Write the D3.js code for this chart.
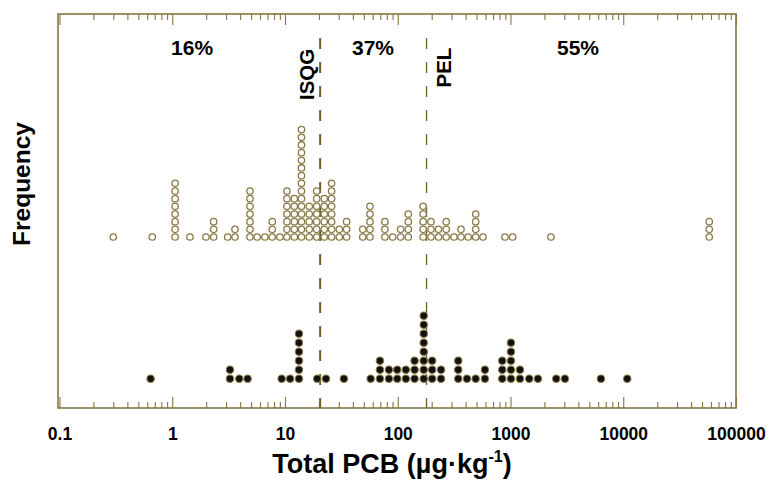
<!DOCTYPE html>
<html>
<head>
<meta charset="utf-8">
<script src="https://cdn.jsdelivr.net/npm/d3@7"></script>
<style>
  html, body { margin: 0; padding: 0; background: #fff; }
  svg { display: block; font-family: "Liberation Sans", Arial, sans-serif; }
</style>
</head>
<body>
<svg id="chart" width="771" height="483"></svg>
<script>
// ---------------- data ----------------
// Upper series (open circles): bin value (µg·kg-1) and number of samples stacked in the bin
const openValues = [0.30, 0.665, 1.06, 1.435, 1.99, 2.33, 3.10, 3.60, 4.89, 5.67, 6.64, 7.71, 9.02, 10.4, 12.1, 14.0, 16.4, 19.1, 22.3, 25.9, 30.3, 35.2, 48.9, 56.7, 76.9, 90.1, 106, 124, 168, 197, 230, 269, 315, 364, 422, 491, 570, 893, 1045, 2284, 57900];
const openCounts = [1, 1, 8, 1, 1, 3, 1, 2, 7, 1, 1, 3, 1, 7, 6, 15, 5, 7, 6, 8, 2, 3, 2, 5, 3, 1, 2, 4, 5, 3, 2, 3, 1, 2, 1, 4, 1, 1, 1, 1, 3];

// Lower series (filled circles)
const filledValues = [0.643, 3.25, 3.93, 4.66, 9.34, 11.1, 13.3, 19.3, 23.1, 33.3, 57.5, 69.5, 83.5, 99.0, 118, 141, 170, 202, 242, 344, 411, 491, 593, 845, 1009, 1213, 1466, 1750, 2545, 3040, 6340, 10850];
const filledCounts = [1, 2, 1, 1, 1, 1, 6, 1, 1, 1, 1, 3, 2, 2, 2, 3, 8, 3, 2, 3, 1, 1, 2, 3, 5, 2, 1, 1, 1, 1, 1, 1];

// Sediment quality guidelines
const guidelineNames = ["ISQG", "PEL"];
const guidelineValues = [20.5, 180];

// Percentage annotations (label, position value)
const percentLabels = ["16%", "37%", "55%"];
const percentPositions = [1.50, 60.3, 3970];

// Axis ticks
const majorTicks = [0.1, 1, 10, 100, 1000, 10000, 100000];
const tickLabels = ["0.1", "1", "10", "100", "1000", "10000", "100000"];

// ---------------- drawing ----------------
const svg = d3.select("#chart");
const frame = { left: 58, right: 736, top: 14, bottom: 408 };
const olive = "#85763f";

const x = d3.scaleLog().domain([0.1, 100000]).range([59.5, 736]);
const minorTicks = x.ticks().filter(v => !majorTicks.some(m => Math.abs(m - v) / m < 1e-9));

const yOpen = d3.scaleLinear().domain([0, 10]).range([237, 237 - 76.7]);
const yFilled = d3.scaleLinear().domain([0, 10]).range([378.7, 378.7 - 90]);

// frame
svg.append("rect")
  .attr("x", frame.left).attr("y", frame.top)
  .attr("width", frame.right - frame.left).attr("height", frame.bottom - frame.top)
  .attr("fill", "none").attr("stroke", olive).attr("stroke-width", 1.6);

function styleAxis(g) {
  g.select(".domain").remove();
  g.selectAll(".tick line").attr("stroke", olive).attr("stroke-width", 1.1);
}

// bottom axis: major + minor
svg.append("g").attr("transform", `translate(0,${frame.bottom})`)
  .call(d3.axisBottom(x).tickValues(majorTicks).tickSize(-11).tickPadding(20)
    .tickFormat((d, i) => tickLabels[i]))
  .call(styleAxis)
  .call(g => g.selectAll(".tick text")
    .attr("fill", "#000").attr("font-size", 17.5).attr("font-weight", "bold")
    .attr("font-family", "'Liberation Sans', Arial, sans-serif"));

svg.append("g").attr("transform", `translate(0,${frame.bottom})`)
  .call(d3.axisBottom(x).tickValues(minorTicks).tickSize(-6).tickFormat(""))
  .call(styleAxis);

// top axis
svg.append("g").attr("transform", `translate(0,${frame.top})`)
  .call(d3.axisTop(x).tickValues(majorTicks).tickSize(-11).tickFormat(""))
  .call(styleAxis);
svg.append("g").attr("transform", `translate(0,${frame.top})`)
  .call(d3.axisTop(x).tickValues(minorTicks).tickSize(-6).tickFormat(""))
  .call(styleAxis);

// guideline dashed lines
svg.selectAll("line.guide").data(guidelineValues).join("line")
  .attr("class", "guide")
  .attr("x1", d => x(d)).attr("x2", d => x(d))
  .attr("y1", 38).attr("y2", frame.bottom)
  .attr("stroke", "#6e5f26")
  .attr("stroke-width", (d, i) => i === 0 ? 2 : 1.3)
  .attr("stroke-dasharray", "11 13");

// guideline labels (rotated)
const guideLabelBottoms = [100, 87.5];
const guideLabelX = [313.5, 450.5];
svg.selectAll("text.guideLabel").data(guidelineNames).join("text")
  .attr("class", "guideLabel")
  .attr("transform", (d, i) => `translate(${guideLabelX[i]},${guideLabelBottoms[i]}) rotate(-90)`)
  .attr("text-anchor", "start")
  .attr("font-size", 20.5).attr("font-weight", "bold").attr("fill", "#000")
  .text(d => d);

// percentage labels
svg.selectAll("text.pct").data(percentLabels).join("text")
  .attr("class", "pct")
  .attr("x", (d, i) => x(percentPositions[i])).attr("y", 55)
  .attr("text-anchor", "middle")
  .attr("font-size", 21).attr("font-weight", "bold").attr("fill", "#000")
  .text(d => d);

// expand stacks
function stacks(values, counts) {
  const out = [];
  values.forEach((v, i) => { for (let k = 0; k < counts[i]; k++) out.push({ v, k }); });
  return out;
}

svg.append("g").selectAll("circle").data(stacks(openValues, openCounts)).join("circle")
  .attr("cx", d => x(d.v)).attr("cy", d => yOpen(d.k))
  .attr("r", 3.2)
  .attr("fill", "#fff").attr("stroke", "#8a7a45").attr("stroke-width", 1.3);

svg.append("g").selectAll("circle").data(stacks(filledValues, filledCounts)).join("circle")
  .attr("cx", d => x(d.v)).attr("cy", d => yFilled(d.k))
  .attr("r", 3.7)
  .attr("fill", "#111").attr("stroke", "#8a7a45").attr("stroke-width", 1.1);

// axis titles
const xt = svg.append("text")
  .attr("x", 392).attr("y", 473)
  .attr("text-anchor", "middle")
  .attr("font-size", 27).attr("font-weight", "bold").attr("fill", "#000");
xt.append("tspan").text("Total PCB (µg·kg");
xt.append("tspan").attr("font-size", 16).attr("dy", -11).text("-1");
xt.append("tspan").attr("dy", 11).text(")");

svg.append("text")
  .attr("transform", "translate(30,184) rotate(-90)")
  .attr("text-anchor", "middle")
  .attr("font-size", 24.5).attr("font-weight", "bold").attr("fill", "#000")
  .text("Frequency");
</script>
</body>
</html>
